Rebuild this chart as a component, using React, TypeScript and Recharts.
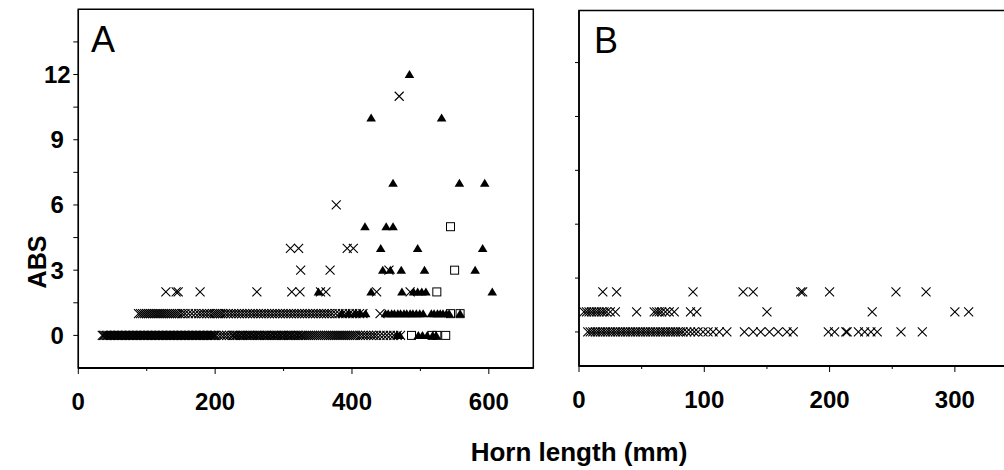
import React from 'react';
import { ScatterChart, Scatter, XAxis, YAxis, ReferenceArea } from 'recharts';

const FONT = '"Liberation Sans", Arial, Helvetica, sans-serif';

// ---------- Panel A (horn length vs ABS) ----------
const aXTicks = [0, 100, 200, 300, 400, 500, 600];
const aYTicks = [0, 1.5, 3, 4.5, 6, 7.5, 9, 10.5, 12, 13.5];

// crosses
const aCross0 = [35, 37, 39, 41, 43, 45, 47, 49, 51, 53, 55, 57, 59, 61, 63, 65, 67, 69, 71, 73, 75, 77, 79, 81, 83, 85, 87, 89, 91, 93, 95, 97, 99, 101, 103, 105, 107, 109, 111, 113, 115, 117, 119, 121, 123, 125, 127, 129, 131, 133, 135, 137, 139, 141, 143, 145, 147, 149, 151, 153, 155, 157, 159, 161, 163, 165, 167, 169, 171, 173, 175, 177, 179, 181, 183, 185, 187, 189, 191, 193, 195, 197, 199, 201, 205, 209, 213, 217, 221, 225, 227, 230, 232, 235, 237, 240, 242, 245, 247, 250, 252, 255, 257, 260, 262, 265, 267, 270, 272, 275, 277, 280, 282, 285, 287, 290, 292, 295, 297, 300, 302, 305, 307, 310, 312, 315, 317, 320, 322, 325, 327, 330, 333, 336, 339, 342, 345, 348, 351, 354, 357, 360, 363, 366, 369, 372, 375, 378, 381, 384, 387, 390, 393, 396, 399, 402, 405, 408, 412, 416, 420, 424, 428, 432, 436, 441, 446, 451, 456, 461, 466, 471];
const aCross1 = [88, 91, 94, 97, 100, 103, 106, 109, 112, 115, 118, 121, 124, 127, 130, 133, 136, 139, 142, 145, 148, 152, 156, 161, 166, 171, 176, 180, 184, 188, 192, 196, 199, 202, 205, 208, 211, 215, 219, 223, 227, 231, 235, 239, 243, 247, 251, 255, 259, 263, 267, 271, 275, 279, 283, 287, 291, 295, 299, 303, 307, 311, 315, 319, 323, 327, 331, 335, 339, 343, 347, 351, 355, 359, 363, 367, 371, 376, 381, 386, 391, 396, 401, 406, 411, 416, 441];
const aCross2 = [128, 143, 146, 178, 261, 312, 324, 354, 362, 436, 485];
const aCross3 = [325, 368, 454];
const aCross4 = [310, 322, 393, 402];
const aCross6 = [377];
const aCross11 = [469];

// filled triangles
const aTri0 = [466, 470, 497, 503, 510, 518, 523];
const aTri1 = [385, 395, 405, 412, 420, 449, 453, 458, 462, 467, 471, 476, 480, 485, 489, 494, 499, 504, 516, 520, 525, 529, 533, 538, 542, 558];
const aTri2 = [351, 428, 473, 490, 496, 502, 508, 605];
const aTri3 = [445, 456, 472, 506, 580];
const aTri4 = [442, 496, 591];
const aTri5 = [419, 450, 460];
const aTri7 = [460, 557, 594];
const aTri10 = [428, 531];
const aTri12 = [484];

// open squares
const aSq0 = [487, 517, 524, 537];
const aSq1 = [544, 558];
const aSq2 = [524];
const aSq3 = [550];
const aSq5 = [544];

// ---------- Panel B ----------
const bXTicks = [0, 50, 100, 150, 200, 250, 300];
const bYTicks = [0, 2.69, 5.38, 8.07, 10.76, 13.45];

const bCross0 = [7, 9, 11, 13, 15, 17, 19, 21, 23, 25, 27, 29, 31, 33, 35, 37, 39, 41, 43, 45, 47, 49, 51, 53, 55, 57, 59, 61, 63, 65, 67, 69, 71, 73, 75, 77, 79, 81, 83, 86, 89, 92, 95, 99, 103, 107, 112, 118, 132, 139, 145, 152, 159, 166, 171, 199, 204, 213, 214, 223, 228, 233, 238, 257, 274];
const bCross1 = [4, 6, 8, 10, 12, 14, 16, 18, 20, 22, 25, 29, 46, 60, 62, 64, 66, 69, 72, 76, 89, 94, 150, 234, 300, 311];
const bCross2 = [19, 30, 91, 131, 139, 177, 178.5, 200, 253, 277];

const pts = (xs: number[], y: number) => xs.map((x) => ({ x, y }));

const aCrossData = [
  ...pts(aCross0, 0), ...pts(aCross1, 1), ...pts(aCross2, 2), ...pts(aCross3, 3),
  ...pts(aCross4, 4), ...pts(aCross6, 6), ...pts(aCross11, 11),
];
const aTriData = [
  ...pts(aTri0, 0), ...pts(aTri1, 1), ...pts(aTri2, 2), ...pts(aTri3, 3), ...pts(aTri4, 4),
  ...pts(aTri5, 5), ...pts(aTri7, 7), ...pts(aTri10, 10), ...pts(aTri12, 12),
];
const aSqData = [...pts(aSq0, 0), ...pts(aSq1, 1), ...pts(aSq2, 2), ...pts(aSq3, 3), ...pts(aSq5, 5)];
const bCrossData = [...pts(bCross0, 0), ...pts(bCross1, 1), ...pts(bCross2, 2)];

// ---------- shapes ----------
const Cross = (p: any) => {
  const { cx, cy } = p;
  if (cx == null || cy == null) return null;
  const s = 4.5;
  return (
    <path
      d={`M${cx - s},${cy - s}L${cx + s},${cy + s}M${cx - s},${cy + s}L${cx + s},${cy - s}`}
      stroke="#000"
      strokeWidth={1.1}
      fill="none"
    />
  );
};
const Tri = (p: any) => {
  const { cx, cy } = p;
  if (cx == null || cy == null) return null;
  return <path d={`M${cx},${cy - 4.5}L${cx + 4.8},${cy + 3.5}L${cx - 4.8},${cy + 3.5}Z`} fill="#000" />;
};
const Sq = (p: any) => {
  const { cx, cy } = p;
  if (cx == null || cy == null) return null;
  return <rect x={cx - 4} y={cy - 4} width={8} height={8} fill="none" stroke="#000" strokeWidth={1} />;
};

// ---------- ticks ----------
const makeXTick = (labelEvery: number) => (p: any) => {
  const { x, y, payload } = p;
  const v = payload.value;
  const major = v % labelEvery === 0;
  return (
    <g>
      <line x1={x} x2={x} y1={y} y2={y + (major ? 6 : 3)} stroke="#000" strokeWidth={1} />
      {major && (
        <text x={x} y={y + 42} textAnchor="middle" fontFamily={FONT} fontWeight="bold" fontSize={24} fill="#000">
          {v}
        </text>
      )}
    </g>
  );
};
const AYTick = (p: any) => {
  const { x, y, payload } = p;
  const v = payload.value;
  const major = Math.abs(v % 3) < 1e-6;
  return (
    <g>
      <line x1={x - 5} x2={x} y1={y} y2={y} stroke="#000" strokeWidth={1} />
      {major && (
        <text x={x - 21} y={y + 8.5} textAnchor="middle" fontFamily={FONT} fontWeight="bold" fontSize={24} fill="#000">
          {v}
        </text>
      )}
    </g>
  );
};
const BYTick = (p: any) => {
  const { x, y } = p;
  return <line x1={x - 4} x2={x} y1={y} y2={y} stroke="#000" strokeWidth={1} />;
};

const AXTickC = makeXTick(200);
const BXTickC = makeXTick(100);

export default function App() {
  return (
    <div style={{ position: 'absolute', left: 0, top: 0, width: 1004, height: 470, overflow: 'hidden', background: '#fff' }}>
      <div style={{ position: 'absolute', left: 0, top: 0 }}>
        <ScatterChart width={560} height={470} margin={{ top: 9.3, right: 26.7, bottom: 0, left: 0.3 }}>
          <XAxis
            type="number"
            dataKey="x"
            domain={[0, 665]}
            ticks={aXTicks}
            allowDataOverflow
            height={102}
            tickSize={0}
            tickMargin={0}
            tickLine={false}
            axisLine={{ stroke: '#000', strokeWidth: 2 }}
            tick={<AXTickC />}
            interval={0}
          />
          <YAxis
            type="number"
            dataKey="y"
            domain={[-1.5, 15]}
            ticks={aYTicks}
            allowDataOverflow
            width={78}
            tickSize={0}
            tickMargin={0}
            tickLine={false}
            axisLine={{ stroke: '#000', strokeWidth: 1.2 }}
            tick={<AYTick />}
            interval={0}
          />
          <ReferenceArea x1={0} x2={665} y1={-1.5} y2={15} fill="none" stroke="#000" strokeWidth={1.5} ifOverflow="visible" />
          <Scatter data={aCrossData} shape={<Cross />} isAnimationActive={false} />
          <Scatter data={aTriData} shape={<Tri />} isAnimationActive={false} />
          <Scatter data={aSqData} shape={<Sq />} isAnimationActive={false} />
        </ScatterChart>
      </div>
      <div style={{ position: 'absolute', left: 500, top: 0 }}>
        <ScatterChart width={520} height={470} margin={{ top: 10.5, right: 10, bottom: 0, left: 0 }}>
          <XAxis
            type="number"
            dataKey="x"
            domain={[0, 344]}
            ticks={bXTicks}
            allowDataOverflow
            height={104}
            tickSize={0}
            tickMargin={0}
            tickLine={false}
            axisLine={{ stroke: '#000', strokeWidth: 2 }}
            tick={<BXTickC />}
            interval={0}
          />
          <YAxis
            type="number"
            dataKey="y"
            domain={[-1.7, 16.05]}
            ticks={bYTicks}
            allowDataOverflow
            width={79}
            tickSize={0}
            tickMargin={0}
            tickLine={false}
            axisLine={{ stroke: '#000', strokeWidth: 1.5 }}
            tick={<BYTick />}
            interval={0}
          />
          <ReferenceArea x1={0} x2={344} y1={-1.7} y2={16.05} fill="none" stroke="#000" strokeWidth={1.5} ifOverflow="visible" />
          <Scatter data={bCrossData} shape={<Cross />} isAnimationActive={false} />
        </ScatterChart>
      </div>
      <svg width={1004} height={470} style={{ position: 'absolute', left: 0, top: 0, pointerEvents: 'none' }}>
        <text x={91} y={52} fontFamily={FONT} fontSize={36} fill="#000">A</text>
        <text x={594} y={53} fontFamily={FONT} fontSize={36} fill="#000">B</text>
        <text x={579} y={461} textAnchor="middle" fontFamily={FONT} fontWeight="bold" fontSize={26} fill="#000">
          Horn length (mm)
        </text>
        <text
          x={0}
          y={0}
          transform="translate(46,262) rotate(-90)"
          textAnchor="middle"
          fontFamily={FONT}
          fontWeight="bold"
          fontSize={25}
          fill="#000"
        >
          ABS
        </text>
      </svg>
    </div>
  );
}
